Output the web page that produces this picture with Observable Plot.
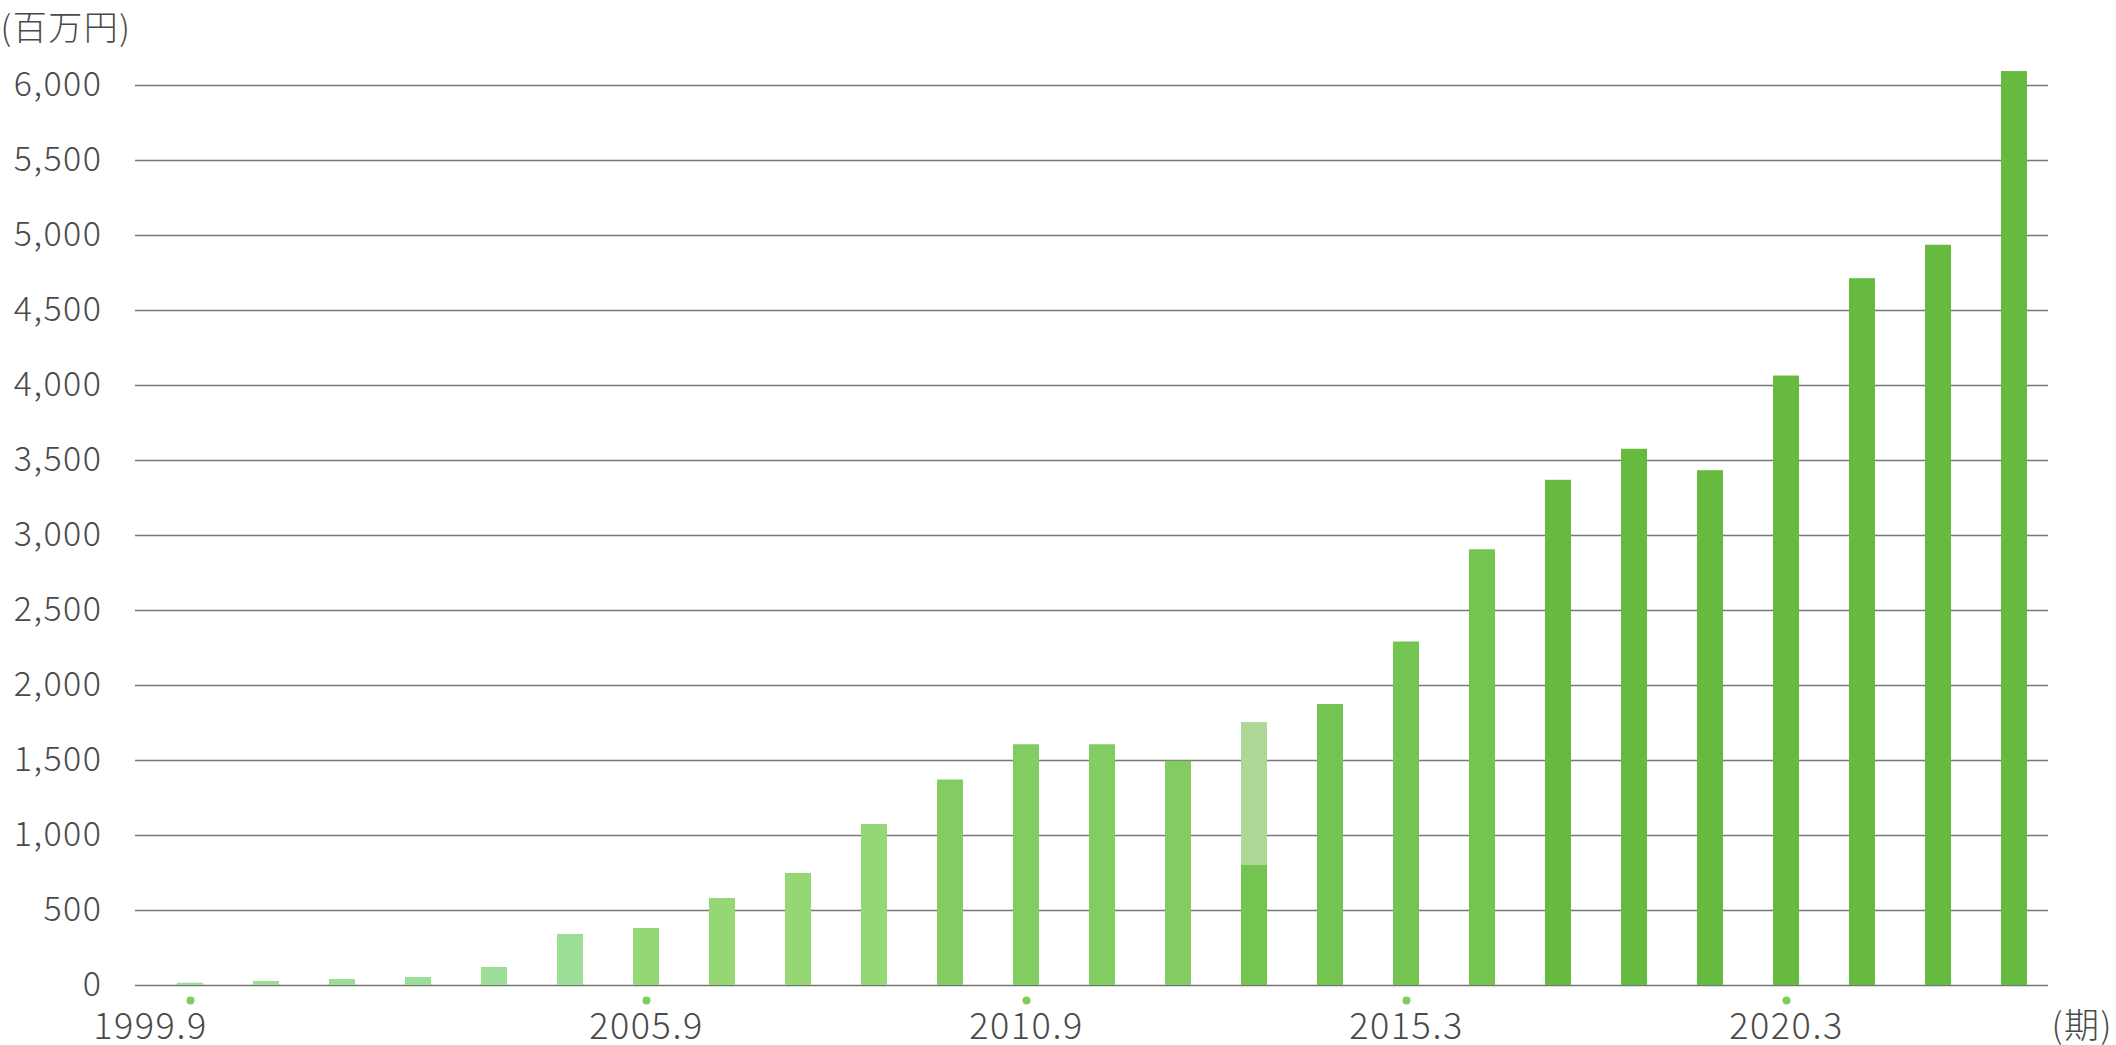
<!DOCTYPE html>
<html>
<head>
<meta charset="utf-8">
<script src="https://cdn.jsdelivr.net/npm/d3@7"></script>
<script src="https://cdn.jsdelivr.net/npm/@observablehq/plot@0.6"></script>
<style>
  html, body { margin: 0; padding: 0; background: #fff; overflow: hidden; }
  #chart svg { display: block; }
  #chart svg text { letter-spacing: 1.5px; }
</style>
</head>
<body>
<div id="chart"></div>
<script>
// ---- data ----
const periods = ["1999.9","2000.9","2001.9","2002.9","2003.9","2004.9","2005.9","2006.9","2007.9","2008.9",
                 "2009.9","2010.9","2011.9","2012.9","2013.9","2014.3","2015.3","2016.3","2017.3","2018.3",
                 "2019.3","2020.3","2021.3","2022.3","2023.3"];
const sales = [15, 27, 40, 53, 120, 340, 380, 580, 747, 1073,
               1370, 1605, 1605, 1495, 1753, 1873, 2290, 2905, 3368, 3575,
               3432, 4063, 4712, 4935, 6093];
// lower (darker) part of the split bar; null where the bar is not split
const splitPart = [null, null, null, null, null, null, null, null, null, null,
                   null, null, null, null, 800, null, null, null, null, null,
                   null, null, null, null, null];
const stages = [1,1,1,1,1,1,2,2,2,2,3,3,3,3,4,4,4,4,5,5,5,5,5,5,5];
const labeledPeriods = ["1999.9","2005.9","2010.9","2015.3","2020.3"];
const yTicks = [0,500,1000,1500,2000,2500,3000,3500,4000,4500,5000,5500,6000];
const yUnit = "(百万円)";
const xUnit = "(期)";

// ---- styles ----
const stageColors = ["#9cdd98", "#94d774", "#83cc62", "#74c451", "#66ba40"];
const splitLight = "#aed697";
const font = "'Noto Sans CJK JP', 'Noto Sans', sans-serif";
const textColor = "#4a4a4a";

const rows = periods.map((p, i) => ({
  period: p,
  value: sales[i],
  part: splitPart[i],
  stage: stages[i],
  fill: splitPart[i] != null ? splitLight : stageColors[stages[i] - 1]
}));
const splitRows = rows.filter(d => d.part != null);
const firstLabel = labeledPeriods.slice(0, 1);
const otherLabels = labeledPeriods.slice(1);

const chart = Plot.plot({
  width: 2116,
  height: 1045,
  marginTop: 85,
  marginBottom: 60,
  marginLeft: 135,
  marginRight: 68,
  style: { fontFamily: font, fontWeight: 300, background: "#fff", color: textColor, overflow: "visible" },
  x: { type: "band", domain: periods, paddingInner: 0.658, paddingOuter: 0.414, align: 0.667, axis: null },
  y: { domain: [0, 6000], axis: null },
  marks: [
    Plot.ruleY(yTicks, { stroke: "#767676", strokeWidth: 1.3 }),
    Plot.axisY({ ticks: yTicks, tickSize: 0, tickPadding: 33, tickFormat: d3.format(","), fontSize: 34, fill: textColor, label: null }),
    Plot.barY(rows, { x: "period", y: "value", fill: "fill" }),
    Plot.barY(splitRows, { x: "period", y: "part", fill: d => stageColors[d.stage - 1] }),
    Plot.dot(labeledPeriods, { x: d => d, frameAnchor: "bottom", dy: 15, r: 4, fill: "#7fce5a", stroke: "none" }),
    Plot.text(firstLabel, { x: d => d, text: d => d, frameAnchor: "bottom", dy: 53, dx: -40, fontSize: 36, fill: textColor }),
    Plot.text(otherLabels, { x: d => d, text: d => d, frameAnchor: "bottom", dy: 53, fontSize: 36, fill: textColor }),
    Plot.text([yUnit], { text: d => d, frameAnchor: "top-left", dx: -135, dy: -70, textAnchor: "start", fontSize: 34, fill: textColor }),
    Plot.text([xUnit], { text: d => d, frameAnchor: "bottom-right", dx: 3, dy: 52, textAnchor: "start", fontSize: 35, fill: textColor })
  ]
});
document.getElementById("chart").appendChild(chart);
</script>
</body>
</html>
